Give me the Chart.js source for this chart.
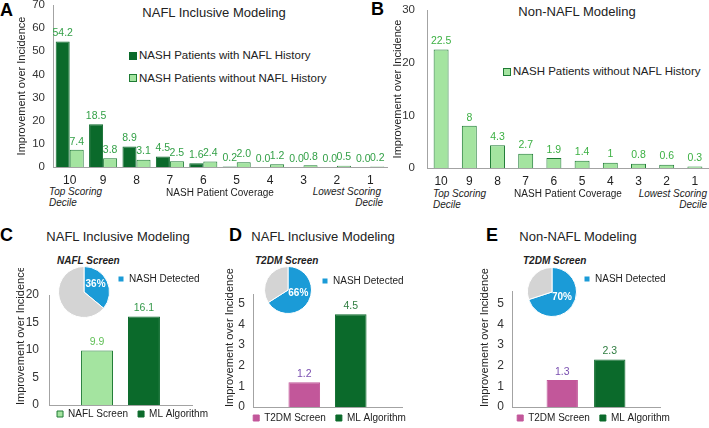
<!DOCTYPE html>
<html>
<head>
<meta charset="utf-8">
<script src="https://cdn.jsdelivr.net/npm/chart.js@4.4.1/dist/chart.umd.min.js"></script>
<style>
    body { margin: 0; width: 709px; height: 428px; position: relative; overflow: hidden; background: #fff;
           font-family: "Liberation Sans", Arial, sans-serif; color: #222; }
    canvas { position: absolute; }
    .t { position: absolute; white-space: nowrap; line-height: 1; }
    .letter { font-weight: bold; font-size: 18px; color: #000; }
    .title { font-size: 13px; transform: translateX(-50%); }
    .note { font-size: 10px; font-style: italic; }
    .sub { font-size: 10px; font-style: italic; font-weight: bold; }
    .leg { font-size: 11.5px; }
    .leg i { display: inline-block; width: 8px; height: 8px; margin-right: 2px; box-sizing: border-box; vertical-align: -0.5px; }
</style>
</head>
<body>
<!-- panel letters / titles / notes -->
<div class="t letter" style="left:0;top:0.5px">A</div>
<div class="t letter" style="left:371px;top:-0.5px">B</div>
<div class="t letter" style="left:0;top:225.5px">C</div>
<div class="t letter" style="left:229px;top:225.5px">D</div>
<div class="t letter" style="left:486px;top:225.5px">E</div>

<div class="t title" style="left:214px;top:6px">NAFL Inclusive Modeling</div>
<div class="t title" style="left:577px;top:5px">Non-NAFL Modeling</div>
<div class="t title" style="left:118px;top:230px">NAFL Inclusive Modeling</div>
<div class="t title" style="left:323px;top:230px">NAFL Inclusive Modeling</div>
<div class="t title" style="left:578px;top:230px">Non-NAFL Modeling</div>

<div class="t note" style="left:49px;top:187px">Top Scoring</div>
<div class="t note" style="left:49px;top:198px">Decile</div>
<div class="t note" style="right:328px;top:187px">Lowest Scoring</div>
<div class="t note" style="right:326px;top:198px">Decile</div>
<div class="t note" style="left:433px;top:189px">Top Scoring</div>
<div class="t note" style="left:433px;top:200px">Decile</div>
<div class="t note" style="right:2px;top:189px">Lowest Scoring</div>
<div class="t note" style="right:2px;top:200px">Decile</div>

<div class="t leg" style="left:129px;top:50px"><i style="background:#0b6a2b"></i>NASH Patients with NAFL History</div>
<div class="t leg" style="left:129px;top:72.5px"><i style="background:#a4e4a0;border:1px solid #1e7b34"></i>NASH Patients without NAFL History</div>
<div class="t leg" style="left:503px;top:66px"><i style="background:#a4e4a0;border:1px solid #1e7b34"></i>NASH Patients without NAFL History</div>

<div class="t sub" style="left:57px;top:255.5px">NAFL Screen</div>
<div class="t sub" style="left:255px;top:255.5px">T2DM Screen</div>
<div class="t sub" style="left:523px;top:255.5px">T2DM Screen</div>

<canvas id="chartA" width="379" height="213" style="left:11px;top:-3px"></canvas>
<canvas id="chartB" width="322" height="213" style="left:387px;top:-3px"></canvas>
<canvas id="chartC" width="245" height="167" style="left:10px;top:268px"></canvas>
<canvas id="chartD" width="225" height="169" style="left:217px;top:268px"></canvas>
<canvas id="chartE" width="239" height="169" style="left:474px;top:268px"></canvas>
<canvas id="pieC" width="150" height="52" style="left:58px;top:266px"></canvas>
<canvas id="pieD" width="146" height="48" style="left:264px;top:266px"></canvas>
<canvas id="pieE" width="148" height="50" style="left:527px;top:267px"></canvas>

<script>
// ---------- DATA ----------
const deciles = ["10", "9", "8", "7", "6", "5", "4", "3", "2", "1"];
const withNaflHistory = [54.2, 18.5, 8.9, 4.5, 1.6, 0.2, 0.0, 0.0, 0.0, 0.0];
const withoutNaflHistory = [7.4, 3.8, 3.1, 2.5, 2.4, 2.0, 1.2, 0.8, 0.5, 0.2];
const nonNaflWithout = [22.5, 8, 4.3, 2.7, 1.9, 1.4, 1, 0.8, 0.6, 0.3];
const naflScreenC = [9.9];
const mlAlgorithmC = [16.1];
const t2dmScreenD = [1.2];
const mlAlgorithmD = [4.5];
const t2dmScreenE = [1.3];
const mlAlgorithmE = [2.3];
const pieLabels = ["NASH Detected", "Not Detected"];
const pieC = [36, 64];
const pieD = [66, 34];
const pieE = [70, 30];

// ---------- STYLE ----------
const DARK = "#0b6a2b", LIGHT = "#a4e4a0", EDGE = "#1e7b34";
const PINK = "#c2579a", BLUE = "#1b9bd7", GREY = "#d4d4d4", AXIS = "#a3a3a3";
Chart.defaults.font.family = '"Liberation Sans", Arial, sans-serif';
Chart.defaults.color = "#222";

// value labels above bars
const barValues = {
    id: "barValues",
    afterDatasetsDraw(chart, args, opts) {
        const ctx = chart.ctx;
        ctx.save();
        ctx.font = '10.5px "Liberation Sans", Arial, sans-serif';
        ctx.textAlign = "center";
        ctx.textBaseline = "bottom";
        chart.data.datasets.forEach((ds, i) => {
            chart.getDatasetMeta(i).data.forEach((bar, j) => {
                const v = ds.data[j];
                ctx.fillStyle = opts.colors[i];
                ctx.fillText(opts.decimals != null ? v.toFixed(opts.decimals) : String(v), bar.x, bar.y - 3);
            });
        });
        ctx.restore();
    }
};

// percentage inside the first slice
const sliceValue = {
    id: "sliceValue",
    afterDatasetsDraw(chart) {
        const arc = chart.getDatasetMeta(0).data[0];
        const p = arc.tooltipPosition();
        const ctx = chart.ctx;
        ctx.save();
        ctx.font = 'bold 10px "Liberation Sans", Arial, sans-serif';
        ctx.fillStyle = "#fff";
        ctx.textAlign = "center";
        ctx.textBaseline = "middle";
        ctx.fillText(chart.data.datasets[0].data[0] + "%", p.x, p.y - 2);
        ctx.restore();
    }
};

function makeBars(id, cfg) {
    const scales = {
        x: {
            grid: { display: false, drawTicks: false },
            border: { color: AXIS },
            ticks: cfg.xTicks || { display: false },
            title: cfg.xTitle || { display: false },
            afterFit: s => { s.height = cfg.xHeight; s.paddingLeft = 0; s.paddingRight = 0; }
        },
        y: {
            min: 0, max: cfg.yMax,
            grid: { display: false, drawTicks: false },
            border: { color: AXIS },
            ticks: { stepSize: cfg.yStep, padding: cfg.yPad, includeBounds: false, color: "#333", font: { size: cfg.yFont || 11.5 } },
            title: { display: true, text: "Improvement over Incidence", color: "#222", font: { size: 11 },
                     align: cfg.yTitleAlign || "center", padding: { top: cfg.yTitlePad || 4, bottom: 0 } },
            afterFit: s => { s.width = cfg.yWidth; s.paddingTop = 0; s.paddingBottom = 0; }
        }
    };
    // empty right-hand axis: keeps the plot narrow while the bottom legend spans the whole canvas
    if (cfg.spacer) {
        scales.spacer = {
            type: "linear", axis: "y", position: "right",
            grid: { display: false, drawTicks: false }, border: { display: false }, ticks: { display: false },
            afterFit: s => { s.width = cfg.spacer; s.paddingTop = 0; s.paddingBottom = 0; }
        };
    }
    return new Chart(document.getElementById(id), {
        type: "bar",
        data: { labels: cfg.labels, datasets: cfg.datasets },
        plugins: [barValues],
        options: {
            responsive: false, animation: false, devicePixelRatio: 1,
            layout: { padding: cfg.padding },
            datasets: { bar: { categoryPercentage: cfg.catPct, barPercentage: cfg.barPct } },
            plugins: {
                legend: cfg.legend || { display: false },
                tooltip: { enabled: false },
                barValues: cfg.values
            },
            scales: scales
        }
    });
}

function makePie(id, values, legendPad) {
    return new Chart(document.getElementById(id), {
        type: "pie",
        data: { labels: pieLabels, datasets: [{ data: values, backgroundColor: [BLUE, GREY], borderColor: "#fff", borderWidth: 1 }] },
        plugins: [sliceValue],
        options: {
            responsive: false, animation: false, devicePixelRatio: 1,
            plugins: {
                tooltip: { enabled: false },
                legend: {
                    position: "right", align: "start", maxWidth: 98,
                    labels: { boxWidth: 6, boxHeight: 6, padding: legendPad, color: "#222", font: { size: 10 },
                              filter: item => item.index === 0 }
                }
            }
        }
    });
}

const bottomLegend = { display: true, position: "bottom",
    labels: { boxWidth: 6, boxHeight: 6, padding: 10, color: "#222", font: { size: 10 } } };

// ---------- A ----------
makeBars("chartA", {
    labels: deciles,
    datasets: [
        { label: "NASH Patients with NAFL History", data: withNaflHistory, backgroundColor: DARK, borderColor: DARK, borderWidth: 1 },
        { label: "NASH Patients without NAFL History", data: withoutNaflHistory, backgroundColor: LIGHT, borderColor: EDGE, borderWidth: 1 }
    ],
    padding: { top: 8, right: 3, bottom: 0, left: 0 },
    catPct: 0.84, barPct: 1,
    yMax: 70, yStep: 10, yPad: 8, yWidth: 42, xHeight: 43,
    xTicks: { padding: 6, color: "#222", font: { size: 12 } },
    xTitle: { display: true, text: "NASH Patient Coverage", color: "#222", font: { size: 10 }, padding: { top: 0, bottom: 11 } },
    values: { colors: ["#33a047", "#33a047"], decimals: 1 }
});

// ---------- B ----------
makeBars("chartB", {
    labels: deciles,
    datasets: [
        { label: "NASH Patients without NAFL History", data: nonNaflWithout, backgroundColor: LIGHT, borderColor: EDGE, borderWidth: 1 }
    ],
    padding: { top: 13, right: 0, bottom: 0, left: 0 },
    catPct: 1, barPct: 0.53,
    yMax: 30, yStep: 10, yPad: 12, yWidth: 40, xHeight: 42,
    xTicks: { padding: 6, color: "#222", font: { size: 12 } },
    xTitle: { display: true, text: "NASH Patient Coverage", color: "#222", font: { size: 10 }, padding: { top: 0, bottom: 10 } },
    values: { colors: ["#3cb043"] }
});

// ---------- C ----------
makeBars("chartC", {
    labels: [""],
    datasets: [
        { label: "NAFL Screen", data: naflScreenC, backgroundColor: LIGHT, borderColor: EDGE, borderWidth: 1 },
        { label: "ML Algorithm", data: mlAlgorithmC, backgroundColor: DARK, borderColor: DARK, borderWidth: 1 }
    ],
    padding: { top: 27, right: 0, bottom: 0, left: 0 },
    catPct: 0.657, barPct: 0.68,
    yMax: 20, yStep: 5, yPad: 10, yWidth: 39, xHeight: -6, yFont: 12, spacer: 63, yTitleAlign: "start",
    legend: bottomLegend,
    values: { colors: ["#62c058", "#34994a"], decimals: 1 }
});

// ---------- D ----------
makeBars("chartD", {
    labels: [""],
    datasets: [
        { label: "T2DM Screen", data: t2dmScreenD, backgroundColor: PINK, borderColor: PINK, borderWidth: 1 },
        { label: "ML Algorithm", data: mlAlgorithmD, backgroundColor: DARK, borderColor: DARK, borderWidth: 1 }
    ],
    padding: { top: 26.7, right: 0, bottom: 0, left: 0 },
    catPct: 0.624, barPct: 0.68,
    yMax: 5.45, yStep: 1, yPad: 8, yWidth: 36, xHeight: -4, yFont: 12, spacer: 40, yTitleAlign: "start", yTitlePad: 6,
    legend: bottomLegend,
    values: { colors: ["#7a4fb0", "#2f7d40"], decimals: 1 }
});

// ---------- E ----------
makeBars("chartE", {
    labels: [""],
    datasets: [
        { label: "T2DM Screen", data: t2dmScreenE, backgroundColor: PINK, borderColor: PINK, borderWidth: 1 },
        { label: "ML Algorithm", data: mlAlgorithmE, backgroundColor: DARK, borderColor: DARK, borderWidth: 1 }
    ],
    padding: { top: 23.6, right: 0, bottom: 0, left: 0 },
    catPct: 0.642, barPct: 0.66,
    yMax: 5.58, yStep: 1, yPad: 8, yWidth: 38, xHeight: -4, yFont: 12, spacer: 53, yTitleAlign: "start",
    legend: bottomLegend,
    values: { colors: ["#7a4fb0", "#2f7d40"], decimals: 1 }
});

// ---------- PIES ----------
makePie("pieC", pieC, 8);
makePie("pieD", pieD, 10);
makePie("pieE", pieE, 7);
</script>
</body>
</html>
